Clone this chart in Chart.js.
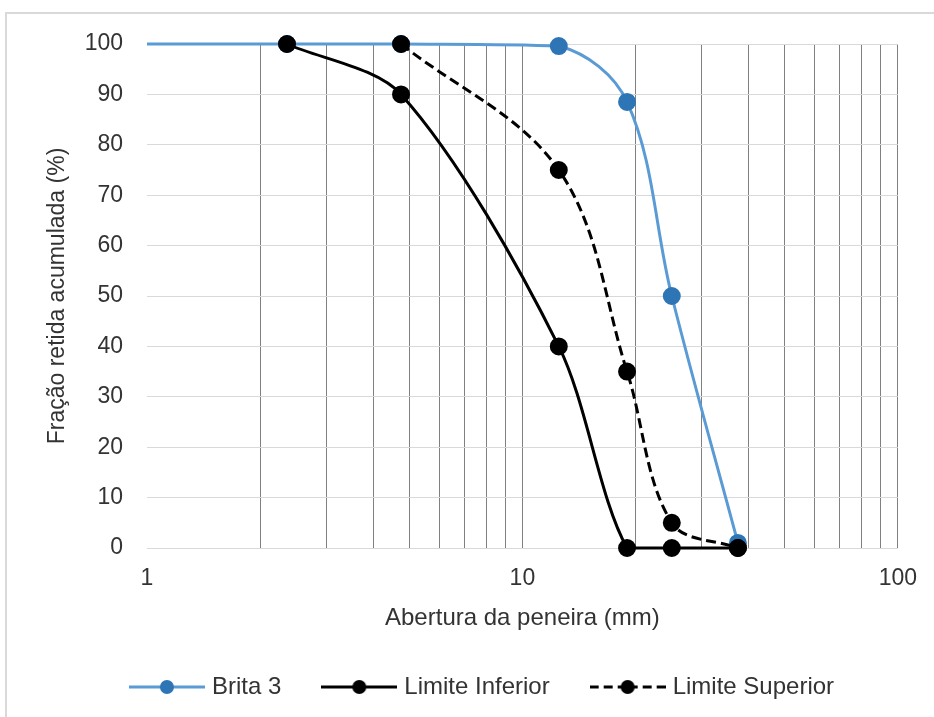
<!DOCTYPE html>
<html>
<head>
<meta charset="utf-8">
<script src="https://cdn.jsdelivr.net/npm/chart.js@4"></script>
<style>
  html, body { margin: 0; padding: 0; background: #fff; }
</style>
</head>
<body>
<canvas id="myChart" width="934" height="717"></canvas>
<script>
// dados da granulometria (abertura em mm, fração retida acumulada em %)
const aberturaBrita = [0.6, 2.36, 4.75, 12.5, 19, 25, 37.5];
const brita3 = [100, 100, 100, 99.6, 88.5, 50, 1];
const aberturaInferior = [2.36, 4.75, 12.5, 19, 25, 37.5];
const limiteInferior = [100, 90, 40, 0, 0, 0];
const aberturaSuperior = [4.75, 12.5, 19, 25, 37.5];
const limiteSuperior = [100, 75, 35, 5, 0];
const xGridValues = [1, 2, 3, 4, 5, 6, 7, 8, 9, 10, 20, 30, 40, 50, 60, 70, 80, 90, 100];
const xTickLabels = [1, 10, 100];

const fonte = 'Liberation Sans, Arial, sans-serif';
const corTexto = '#333333';

function pontos(xs, ys) {
    return xs.map((x, i) => ({x: x, y: ys[i]}));
}

// simbolo da legenda: linha + marcador
function simboloLegenda(corLinha, corPonto, tracejado) {
    const c = document.createElement('canvas');
    c.width = 76; c.height = 18;
    const g = c.getContext('2d');
    g.strokeStyle = corLinha;
    g.lineWidth = 3;
    g.setLineDash(tracejado);
    g.beginPath(); g.moveTo(0, 9); g.lineTo(38, 9); g.stroke();
    g.beginPath(); g.moveTo(76, 9); g.lineTo(38, 9); g.stroke();
    g.setLineDash([]);
    g.fillStyle = corPonto;
    g.beginPath(); g.arc(38, 9, 7, 0, Math.PI * 2); g.fill();
    return c;
}

const simbolos = [
    simboloLegenda('#5B9BD5', '#2E75B6', []),
    simboloLegenda('#000000', '#000000', []),
    simboloLegenda('#000000', '#000000', [9, 5])
];

const fundo = {
    id: 'fundo',
    beforeDraw(chart) {
        const c = chart.ctx;
        c.save();
        c.fillStyle = '#ffffff';
        c.fillRect(0, 0, chart.width, chart.height);
        c.strokeStyle = '#d9d9d9';
        c.lineWidth = 2;
        c.strokeRect(6, 13, chart.width, chart.height);
        c.restore();
    },
    afterLayout(chart) {
        chart.legend.left += 17;
        chart.legend.right += 17;
    }
};

const recorte = {left: 0, top: 10, right: 10, bottom: 10};

const ctx = document.getElementById('myChart').getContext('2d');
const myChart = new Chart(ctx, {
    type: 'line',
    data: {
        datasets: [{
            label: 'Brita 3',
            data: pontos(aberturaBrita, brita3),
            borderColor: '#5B9BD5',
            backgroundColor: '#2E75B6',
            pointBackgroundColor: '#2E75B6',
            pointBorderColor: '#2E75B6',
            pointRadius: 7.5,
            borderWidth: 3,
            tension: 0.35,
            clip: recorte,
            order: 3
        }, {
            label: 'Limite Inferior',
            data: pontos(aberturaInferior, limiteInferior),
            borderColor: '#000000',
            backgroundColor: '#000000',
            pointBackgroundColor: '#000000',
            pointBorderColor: '#000000',
            pointRadius: 7.5,
            borderWidth: 3,
            tension: 0.3,
            clip: recorte,
            order: 2
        }, {
            label: 'Limite Superior',
            data: pontos(aberturaSuperior, limiteSuperior),
            borderColor: '#000000',
            backgroundColor: '#000000',
            pointBackgroundColor: '#000000',
            pointBorderColor: '#000000',
            pointRadius: 7.5,
            borderWidth: 3,
            borderDash: [10, 5],
            tension: 0.35,
            clip: recorte,
            order: 1
        }]
    },
    options: {
        responsive: false,
        animation: false,
        devicePixelRatio: 1,
        layout: {
            padding: {left: 36, top: 44, right: 36, bottom: 8}
        },
        plugins: {
            tooltip: {enabled: false},
            legend: {
                position: 'bottom',
                maxHeight: 88,
                labels: {
                    usePointStyle: true,
                    pointStyleWidth: 66,
                    padding: 45,
                    color: corTexto,
                    font: {family: fonte, size: 24},
                    generateLabels: chart => chart.data.datasets.map((ds, i) => ({
                        text: ds.label,
                        pointStyle: simbolos[i],
                        fillStyle: 'transparent',
                        strokeStyle: 'transparent',
                        lineWidth: 0,
                        hidden: false,
                        datasetIndex: i,
                        fontColor: corTexto
                    }))
                }
            }
        },
        scales: {
            x: {
                type: 'logarithmic',
                min: 1,
                max: 100,
                afterBuildTicks: s => { s.ticks = xGridValues.map(v => ({value: v})); },
                afterFit: s => { s.height = 82; },
                ticks: {
                    autoSkip: false,
                    maxRotation: 0,
                    padding: 17,
                    color: corTexto,
                    font: {family: fonte, size: 23},
                    callback: v => xTickLabels.includes(v) ? String(v) : ''
                },
                grid: {
                    color: c => (c.tick && c.tick.value === 1) ? 'rgba(0,0,0,0)' : '#808080',
                    lineWidth: 1,
                    drawTicks: false
                },
                border: {display: false},
                title: {
                    display: true,
                    text: 'Abertura da peneira (mm)',
                    color: corTexto,
                    font: {family: fonte, size: 24},
                    padding: {top: 0, bottom: -3}
                }
            },
            y: {
                min: 0,
                max: 100,
                afterFit: s => { s.width = 111; },
                ticks: {
                    stepSize: 10,
                    padding: 24,
                    color: corTexto,
                    font: {family: fonte, size: 23}
                },
                grid: {
                    color: '#d9d9d9',
                    lineWidth: 1,
                    drawTicks: false
                },
                border: {display: false},
                title: {
                    display: true,
                    text: 'Fração retida acumulada (%)',
                    color: corTexto,
                    font: {family: fonte, size: 23},
                    padding: {top: 8, bottom: 0}
                }
            }
        }
    },
    plugins: [fundo]
});
</script>
</body>
</html>
